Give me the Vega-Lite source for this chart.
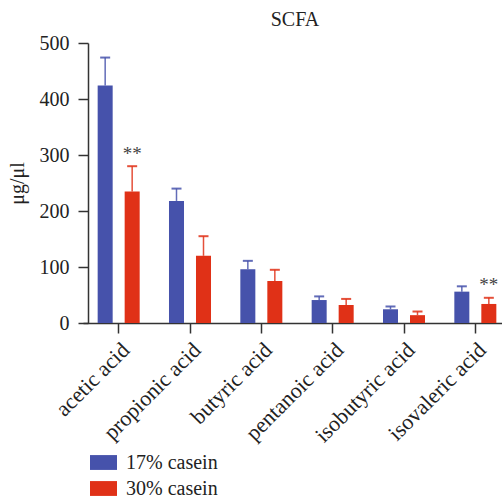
{
  "$schema": "https://vega.github.io/schema/vega-lite/v6.json",
  "autosize": "none",
  "width": 414,
  "height": 280,
  "padding": {"left": 88, "top": 43, "right": 0, "bottom": 175},
  "background": "white",
  "config": {
    "font": "Liberation Serif",
    "view": {"stroke": null},
    "title": {"font": "Liberation Serif", "fontSize": 20, "fontWeight": "normal", "color": "#222"}
  },
  "title": {"text": "SCFA", "offset": 3, "anchor": "middle"},
  "data": {
    "values": [
      {"acid": "acetic acid", "group": "17% casein", "value": 424, "err": 50, "sig": ""},
      {"acid": "acetic acid", "group": "30% casein", "value": 235, "err": 45, "sig": "**"},
      {"acid": "propionic acid", "group": "17% casein", "value": 218, "err": 22, "sig": ""},
      {"acid": "propionic acid", "group": "30% casein", "value": 120, "err": 35, "sig": ""},
      {"acid": "butyric acid", "group": "17% casein", "value": 96, "err": 15, "sig": ""},
      {"acid": "butyric acid", "group": "30% casein", "value": 75, "err": 20, "sig": ""},
      {"acid": "pentanoic acid", "group": "17% casein", "value": 41, "err": 6.5, "sig": ""},
      {"acid": "pentanoic acid", "group": "30% casein", "value": 32, "err": 11, "sig": ""},
      {"acid": "isobutyric acid", "group": "17% casein", "value": 24.5, "err": 5, "sig": ""},
      {"acid": "isobutyric acid", "group": "30% casein", "value": 14, "err": 6.5, "sig": ""},
      {"acid": "isovaleric acid", "group": "17% casein", "value": 56, "err": 9.5, "sig": ""},
      {"acid": "isovaleric acid", "group": "30% casein", "value": 34, "err": 11, "sig": "**"}
    ]
  },
  "encoding": {
    "x": {
      "field": "acid", "type": "nominal",
      "sort": ["acetic acid", "propionic acid", "butyric acid", "pentanoic acid", "isobutyric acid", "isovaleric acid"],
      "scale": {"range": [-5, 423], "paddingInner": 0, "paddingOuter": 0},
      "axis": {
        "title": null, "labelAngle": -45, "labelAlign": "right", "labelBaseline": "top",
        "labelFontSize": 22, "labelColor": "#222", "labelPadding": 6,
        "domainColor": "#333", "domainWidth": 1.5, "tickColor": "#333", "tickWidth": 1.5, "tickSize": 10
      }
    },
    "xOffset": {
      "field": "group", "type": "nominal",
      "sort": ["17% casein", "30% casein"],
      "scale": {"paddingInner": 0.444, "paddingOuter": 0.543}
    }
  },
  "layer": [
    {
      "mark": {"type": "bar", "stroke": null},
      "encoding": {
        "y": {
          "field": "value", "type": "quantitative",
          "scale": {"domain": [0, 500], "nice": false},
          "axis": {
            "title": "μg/μl", "titleFontSize": 20, "titleFontWeight": "normal", "titleColor": "#222",
            "titlePadding": 12, "grid": false, "values": [0, 100, 200, 300, 400, 500],
            "labelFontSize": 20, "labelColor": "#222", "labelPadding": 9,
            "domainColor": "#333", "domainWidth": 1.5, "tickColor": "#333", "tickWidth": 1.5, "tickSize": 10
          }
        },
        "color": {
          "field": "group", "type": "nominal",
          "scale": {"domain": ["17% casein", "30% casein"], "range": ["#4652AB", "#E03117"]},
          "legend": {
            "title": null, "orient": "none", "legendX": 2, "legendY": 406, "padding": 0,
            "symbolType": "M-1,-0.55H1V0.55H-1Z", "symbolSize": 729, "symbolStrokeWidth": 0,
            "labelFontSize": 20, "labelColor": "#222", "labelOffset": 9, "rowPadding": 2
          }
        }
      }
    },
    {
      "mark": {"type": "rule", "strokeWidth": 1.5},
      "encoding": {
        "y": {"field": "value", "type": "quantitative"},
        "y2": {"field": "top"},
        "color": {
          "field": "group", "type": "nominal",
          "scale": {"domain": ["17% casein", "30% casein"], "range": ["#4652AB", "#E03117"]},
          "legend": null
        },
        "opacity": {"value": 0.85}
      },
      "transform": [{"calculate": "datum.value + datum.err", "as": "top"}]
    },
    {
      "mark": {"type": "tick", "orient": "horizontal", "size": 10, "thickness": 2},
      "transform": [{"calculate": "datum.value + datum.err", "as": "top"}],
      "encoding": {
        "y": {"field": "top", "type": "quantitative"},
        "color": {
          "field": "group", "type": "nominal",
          "scale": {"domain": ["17% casein", "30% casein"], "range": ["#4652AB", "#E03117"]},
          "legend": null
        },
        "opacity": {"value": 0.85}
      }
    },
    {
      "mark": {"type": "text", "fontSize": 19, "color": "#444", "baseline": "middle", "dy": 2},
      "transform": [{"filter": "datum.sig != ''"}, {"calculate": "datum.value + datum.err + 26", "as": "stary"}],
      "encoding": {
        "y": {"field": "stary", "type": "quantitative"},
        "text": {"field": "sig"}
      }
    }
  ]
}
